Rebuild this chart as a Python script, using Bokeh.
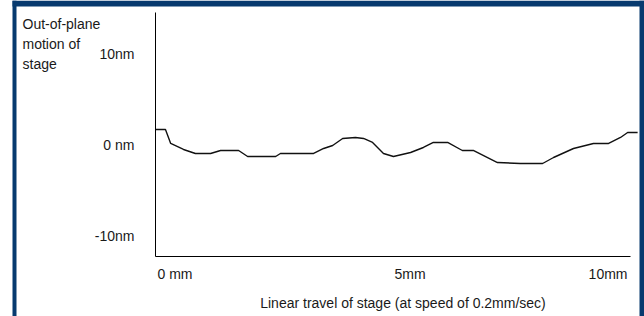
from bokeh.plotting import figure
from bokeh.models import Range1d, FixedTicker, Label, BoxAnnotation
from bokeh.embed import file_html
from bokeh.resources import INLINE

# Data (mm of travel, nm of out-of-plane motion)
travel_mm = [0.0, 0.21, 0.32, 0.59, 0.84, 1.16, 1.37, 1.75, 1.94, 2.53, 2.63, 3.33,
             3.54, 3.73, 3.94, 4.21, 4.38, 4.57, 4.80, 5.01, 5.37, 5.64, 5.85, 6.15,
             6.46, 6.69, 7.20, 7.68, 8.15, 8.38, 8.80, 9.22, 9.54, 9.79, 9.94, 10.15]
motion_nm = [1.76, 1.76, 0.22, -0.44, -0.88, -0.88, -0.55, -0.55, -1.21, -1.21, -0.88, -0.88,
             -0.33, 0.0, 0.77, 0.88, 0.77, 0.33, -0.88, -1.21, -0.77, -0.22, 0.33, 0.33,
             -0.55, -0.55, -1.87, -1.98, -1.98, -1.32, -0.33, 0.22, 0.22, 0.88, 1.43, 1.43]

y_ticks = [-10, 0, 10]
y_tick_labels = ["-10nm", "0 nm", "10nm"]
x_ticks = [0, 5, 10]
x_tick_labels = ["0 mm", "5mm", "10mm"]
y_title = "Out-of-plane\nmotion of\nstage"
x_title = "Linear travel of stage (at speed of 0.2mm/sec)"

FONT = "Liberation Sans"
FS = "14px"
TXT = "#1a1a1a"
BORDER = "#073a6f"

# axis extents (data units) and the visible window around them
x_axis_lo, x_axis_hi = 0.0, 10.0
y_axis_lo, y_axis_hi = -12.2, 14.6
x_view = (-3.263, 10.295)
y_view = (-18.79, 15.93)

p = figure(width=644, height=316, output_backend="svg", toolbar_location=None,
           x_range=Range1d(*x_view), y_range=Range1d(*y_view),
           min_border=0, min_border_left=0, min_border_right=0,
           min_border_top=0, min_border_bottom=0)
p.title.visible = False
p.outline_line_color = None
p.background_fill_color = "white"
p.border_fill_color = "white"
p.xgrid.visible = False
p.ygrid.visible = False

# x axis
xa = p.xaxis[0]
xa.fixed_location = y_axis_lo
xa.bounds = (x_axis_lo, x_axis_hi)
xa.ticker = FixedTicker(ticks=[])
xa.axis_line_color = "black"
xa.axis_line_width = 1
xa.major_tick_line_color = None
xa.minor_tick_line_color = None

# y axis
ya = p.yaxis[0]
ya.fixed_location = x_axis_lo
ya.bounds = (y_axis_lo, y_axis_hi)
ya.ticker = FixedTicker(ticks=y_ticks)
ya.major_label_overrides = {t: l for t, l in zip(y_ticks, y_tick_labels)}
ya.axis_line_color = "black"
ya.major_tick_in = 0
ya.major_tick_out = 0
ya.major_tick_line_color = None
ya.minor_tick_line_color = None
ya.major_label_standoff = 21
ya.major_label_text_align = "left"
ya.major_label_text_font = FONT
ya.major_label_text_font_size = FS
ya.major_label_text_color = TXT

# curve
p.line(travel_mm, motion_nm, line_color="#111111", line_width=1.4)

# x tick labels placed as in the original
x_offsets = [2, 17, -3]
x_aligns = ["left", "center", "right"]
for v, t, dx, al in zip(x_ticks, x_tick_labels, x_offsets, x_aligns):
    p.add_layout(Label(x=v, y=y_axis_lo, x_offset=dx, y_offset=-17, text=t,
                       text_align=al, text_baseline="middle", text_font=FONT,
                       text_font_size=FS, text_color=TXT))

# x title under the axis
p.add_layout(Label(x=(x_axis_lo + x_axis_hi) / 2, y=y_axis_lo, x_offset=10, y_offset=-46,
                   text=x_title, text_align="center", text_baseline="middle",
                   text_font=FONT, text_font_size=FS, text_color=TXT))

# y title in the top-left corner
p.add_layout(Label(x=22, y=301, x_units="screen", y_units="screen", text=y_title,
                   text_align="left", text_baseline="top", text_font=FONT,
                   text_font_size=FS, text_color=TXT, text_line_height=1.25))

# blue frame of the picture (screen units)
for l, r, b, t in [(12, 16, 0, 316), (639, 644, 0, 316), (12, 644, 310, 316)]:
    p.add_layout(BoxAnnotation(left=l, right=r, bottom=b, top=t,
                               left_units="screen", right_units="screen",
                               bottom_units="screen", top_units="screen",
                               fill_color=BORDER, fill_alpha=1.0, line_color=None,
                               level="overlay"))

open("out.html", "w").write(file_html(p, INLINE))
